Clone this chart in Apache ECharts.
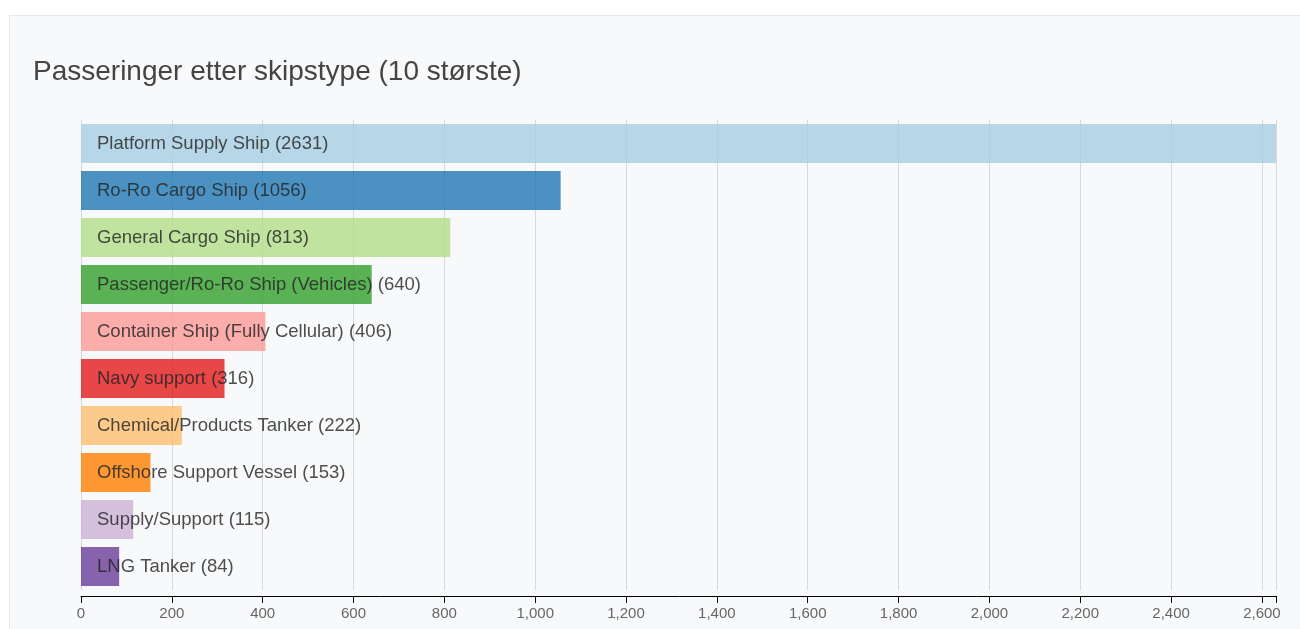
<!DOCTYPE html>
<html>
<head>
<meta charset="utf-8">
<script src="https://cdn.jsdelivr.net/npm/echarts@6/dist/echarts.min.js"></script>
<style>
  html, body { margin: 0; padding: 0; background: #fff; width: 1300px; height: 629px; overflow: hidden; }
  #panel {
    position: absolute; left: 9px; top: 15px; width: 1300px; height: 640px;
    background: #f8f9fb; border: 1px solid #e3e8ec; box-sizing: border-box;
  }
  #chart { position: absolute; left: 0; top: 0; width: 1300px; height: 629px; }
</style>
</head>
<body>
<div id="panel"></div>
<div id="chart"></div>
<script>
// skipstyper, 10 største
const shipTypes = [
  "Platform Supply Ship",
  "Ro-Ro Cargo Ship",
  "General Cargo Ship",
  "Passenger/Ro-Ro Ship (Vehicles)",
  "Container Ship (Fully Cellular)",
  "Navy support",
  "Chemical/Products Tanker",
  "Offshore Support Vessel",
  "Supply/Support",
  "LNG Tanker"
];
const passages = [2631, 1056, 813, 640, 406, 316, 222, 153, 115, 84];
const barColors = ["#a6cee3", "#1f78b4", "#b2df8a", "#33a02c", "#fb9a99",
                   "#e31a1c", "#fdbf6f", "#ff7f00", "#cab2d6", "#6a3d9a"];
const xTicks = [0, 200, 400, 600, 800, 1000, 1200, 1400, 1600, 1800, 2000, 2200, 2400, 2600];

const font = "'Liberation Sans', Arial, sans-serif";
const chart = echarts.init(document.getElementById("chart"));
chart.setOption({
  backgroundColor: "transparent",
  animation: false,
  title: {
    text: "Passeringer etter skipstype (10 største)",
    left: 28,
    top: 53,
    textStyle: { fontFamily: font, fontSize: 28, fontWeight: "normal", color: "#444" }
  },
  grid: { left: 81, right: 24, top: 120, bottom: 39 },
  xAxis: {
    type: "value",
    min: 0,
    max: 2631,
    interval: 200,
    offset: 6,
    axisLine: { show: true, lineStyle: { color: "#000", width: 1 } },
    axisTick: {
      show: true, length: 7, lineStyle: { color: "#000" },
      customValues: xTicks.concat([2631])
    },
    axisLabel: {
      color: "#666", fontSize: 15, fontFamily: font, margin: 10,
      customValues: xTicks
    },
    splitLine: { show: true, lineStyle: { color: "#d8d8d8", width: 1 } }
  },
  yAxis: {
    type: "category",
    inverse: true,
    data: shipTypes,
    axisLine: { show: false },
    axisTick: { show: false },
    axisLabel: { show: false }
  },
  series: [{
    type: "bar",
    barWidth: 39,
    data: passages.map((v, i) => ({
      value: v,
      itemStyle: { color: barColors[i], opacity: 0.8 }
    })),
    label: {
      show: true,
      position: "insideLeft",
      distance: 16,
      formatter: "{b} ({c})",
      color: "#222",
      fontSize: 18.5,
      fontFamily: font
    }
  }]
});
</script>
</body>
</html>
